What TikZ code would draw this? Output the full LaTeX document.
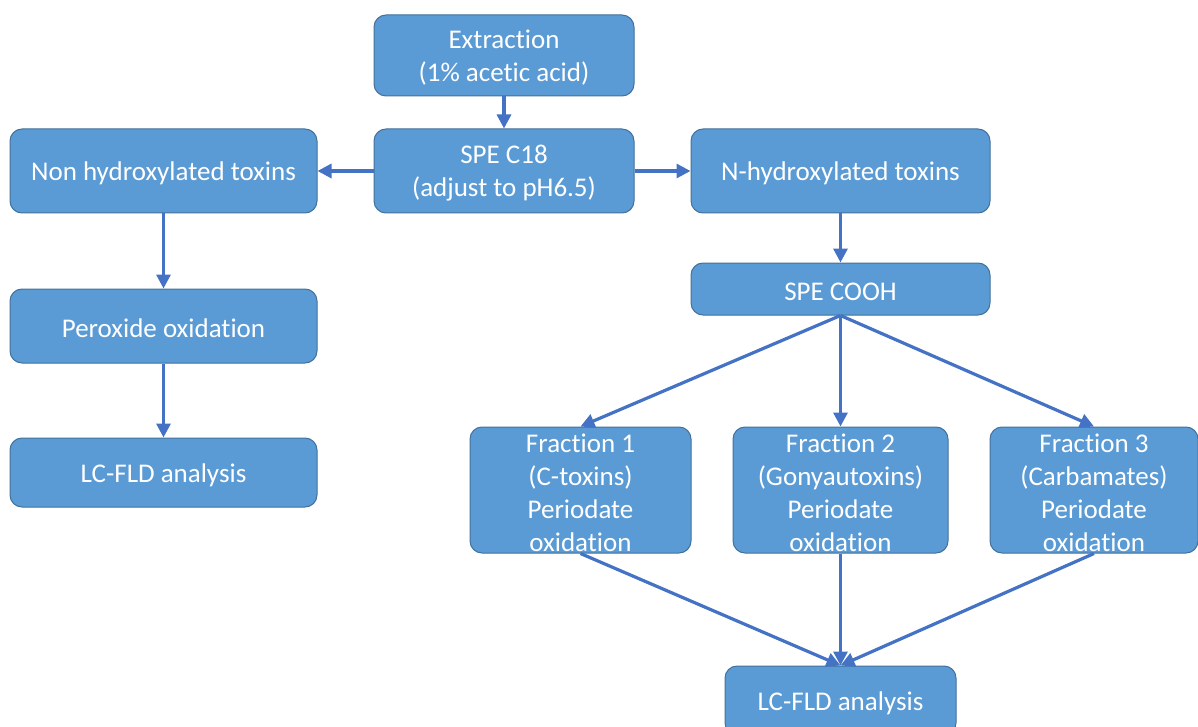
\documentclass[tikz,border=0pt]{standalone}
\usepackage{fontspec}
\setmainfont{Carlito}[Ligatures={NoCommon,NoRequired,NoContextual}]
\usetikzlibrary{arrows.meta}
\definecolor{boxfill}{HTML}{5B9BD5}
\definecolor{boxline}{HTML}{41719C}
\definecolor{arrowc}{HTML}{4472C4}
\newcommand\tiX{t\kern0pt{}i}
\tikzset{
  box/.style={draw=boxline, line width=1pt, fill=boxfill, rounded corners=12pt, inner sep=0pt},
  boxtext/.style={text=white, align=center, inner sep=0pt, font=\fontsize{27}{33}\selectfont},
  conn/.style={draw=arrowc, line width=3.2pt, -{Triangle[length=14pt,width=14pt]}}
}
\newcommand\flowbox[5]{%
  \node[box, minimum width=#3pt, minimum height=#4pt] (#1) at (#2) {};
  \node[boxtext] (#1t) at ([yshift=-2.5pt]#1.center) {#5};}
\begin{document}
\begin{tikzpicture}[x=1pt,y=-1pt]
\useasboundingbox (0,0) rectangle (1198,727);
\flowbox{ext}{504,55.5}{260}{81}{Extrac\tiX{}on\\(1\% ace\tiX{}c acid)}
\flowbox{c18}{504,171}{260}{84}{SPE C18\\(adjust to pH6.5)}
\flowbox{non}{163.5,171}{307}{84}{Non hydroxylated toxins}
\flowbox{nhy}{840.5,171}{299}{84}{N-hydroxylated toxins}
\flowbox{per}{163.5,326}{307}{74}{Peroxide oxida\tiX{}on}
\flowbox{lcl}{163.5,472.5}{307}{69}{LC-FLD analysis}
\flowbox{cooh}{840.5,289}{299}{52}{SPE COOH}
\flowbox{f1}{580.5,490}{221}{126}{Fraction 1\\(C-toxins)\\Periodate\\oxida\tiX{}on}
\flowbox{f2}{840.5,490}{215}{126}{Fraction 2\\(Gonyautoxins)\\Periodate\\oxida\tiX{}on}
\flowbox{f3}{1094,490}{208}{126}{Fraction 3\\(Carbamates)\\Periodate\\oxida\tiX{}on}
\flowbox{lcb}{840.5,700.5}{231}{69}{LC-FLD analysis}
\draw[conn] (ext.south) -- (c18.north);
\draw[conn] (c18.west) -- (non.east);
\draw[conn] (c18.east) -- (nhy.west);
\draw[conn] (non.south) -- (per.north);
\draw[conn] (per.south) -- (lcl.north);
\draw[conn] (nhy.south) -- (cooh.north);
\draw[conn] (cooh.south) -- (f1.north);
\draw[conn] (cooh.south) -- (f2.north);
\draw[conn] (cooh.south) -- (f3.north);
\draw[conn] (f1.south) -- (lcb.north);
\draw[conn] (f2.south) -- (lcb.north);
\draw[conn] (f3.south) -- (lcb.north);
\end{tikzpicture}
\end{document}
